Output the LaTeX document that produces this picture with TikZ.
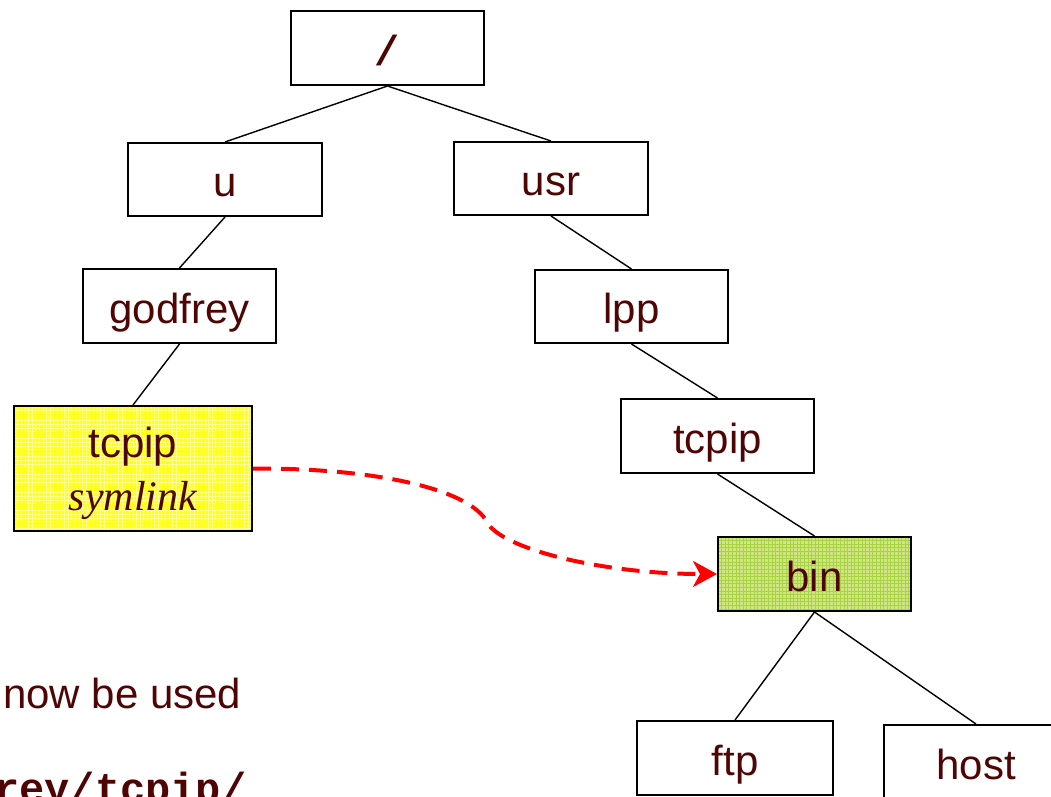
\documentclass[tikz,border=0pt]{standalone}
\usepackage{fontspec}
\setmainfont{Liberation Sans}
\setmonofont{Liberation Mono}
\newfontfamily\symfont{Liberation Serif}
\usetikzlibrary{arrows.meta}

\definecolor{ink}{RGB}{80,5,5}
\definecolor{linkred}{RGB}{255,0,0}
\definecolor{symyellow}{RGB}{255,255,25}
\definecolor{symgrid}{RGB}{255,255,150}
\definecolor{bingreen}{RGB}{208,230,128}
\definecolor{bingrid}{RGB}{170,210,70}

\begin{document}
\begin{tikzpicture}[x=1pt,y=-1pt,
  bigfont/.style={font=\fontsize{42}{50}\selectfont},
  dirbox/.style={draw=black, line width=2pt, fill=white, rectangle,
    minimum width=193pt, minimum height=74pt, inner sep=0pt,
    text=ink, bigfont, text height=44pt, text depth=10pt},
  gridfill/.style 2 args={fill=#1, path picture={
    \draw[#2, line width=0.8pt, step=3.6pt]
      (path picture bounding box.south west) grid (path picture bounding box.north east);}},
  branch/.style={draw=black, line width=1.4pt},
  linkarrow/.style={draw=linkred, line width=4pt, dash pattern=on 18pt off 10pt,
    -{Stealth[length=24pt, width=26pt, inset=7pt]}},
  caption/.style={anchor=base west, inner sep=0pt, text=ink, bigfont}
]
\clip (0,0) rectangle (1051,796);

% directory tree
\node[dirbox, font=\fontsize{42}{50}\selectfont\ttfamily\bfseries] (root) at (387.5,48) {/};
\node[dirbox, minimum width=194pt, minimum height=73pt] (u) at (225,179.5) {u};
\node[dirbox, minimum width=194pt, minimum height=73pt] (usr) at (551,178.5) {usr};
\node[dirbox] (godfrey) at (179.5,306) {godfrey};
\node[dirbox, minimum height=73pt] (lpp) at (631.5,306.5) {lpp};
\node[dirbox] (tcpipR) at (717.5,436) {tcpip};
\node[dirbox, gridfill={bingreen}{bingrid}] (bin) at (814.5,574) {bin};
\node[dirbox, minimum width=196pt] (ftp) at (735,758) {ftp};
\node[dirbox, minimum width=184pt] (host) at (976,762) {host};

% the symbolic link
\node[dirbox, gridfill={symyellow}{symgrid}, minimum width=238pt, minimum height=125pt] (tcpipL) at (133,468.5) {};
\node[anchor=base, inner sep=0pt, text=ink, bigfont] (linkname) at (133,457) {tcpip};
\node[anchor=base, inner sep=0pt, text=ink, font=\fontsize{42}{50}\selectfont\symfont\itshape] (linktag) at (133,510) {symlink};

% branches
\draw[branch] (root.south) -- (u.north);
\draw[branch] (root.south) -- (usr.north);
\draw[branch] (u.south) -- (godfrey.north);
\draw[branch] (godfrey.south) -- (tcpipL.north);
\draw[branch] (usr.south) -- (lpp.north);
\draw[branch] (lpp.south) -- (tcpipR.north);
\draw[branch] (tcpipR.south) -- (bin.north);
\draw[branch] (bin.south) -- (ftp.north);
\draw[branch] (bin.south) -- (host.north);

% link target
\coordinate (bend) at (487,522);
\draw[linkarrow] (tcpipL.east) .. controls (380,468) and (470,490) .. (bend)
  .. controls (500,548) and (600,574) .. (bin.west);

% text below the tree
\node[caption] (hint) at (3,708) {now be used};
\node[caption, font=\fontsize{42}{50}\selectfont\ttfamily\bfseries] (pathtext) at (-6,802) {rey/tcpip/};
\end{tikzpicture}
\end{document}
